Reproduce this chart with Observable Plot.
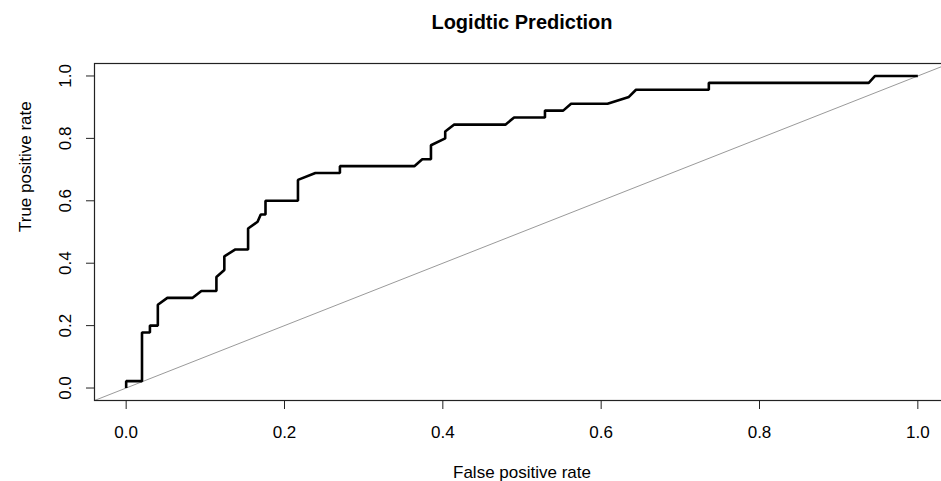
<!DOCTYPE html>
<html><head><meta charset="utf-8">
<script src="https://cdn.jsdelivr.net/npm/d3@7"></script>
<script src="https://cdn.jsdelivr.net/npm/@observablehq/plot@0.6"></script>
<style>html,body{margin:0;padding:0;background:#fff;overflow:hidden;width:941px;height:481px} svg{display:block}</style>
</head><body><div id="chart"></div>
<script>
const title = "Logidtic Prediction";
const xLabel = "False positive rate";
const yLabel = "True positive rate";
const fpr = [0, 0, 0.020, 0.020, 0.030, 0.030, 0.040, 0.040, 0.052, 0.084, 0.095, 0.114, 0.114, 0.124, 0.124, 0.138, 0.154, 0.154, 0.166, 0.170, 0.176, 0.176, 0.217, 0.217, 0.239, 0.270, 0.270, 0.364, 0.374, 0.385, 0.385, 0.403, 0.403, 0.414, 0.479, 0.490, 0.529, 0.529, 0.552, 0.562, 0.608, 0.635, 0.644, 0.736, 0.736, 0.938, 0.946, 1.0];
const tpr = [0, 0.022, 0.022, 0.178, 0.178, 0.200, 0.200, 0.267, 0.289, 0.289, 0.311, 0.311, 0.356, 0.378, 0.422, 0.444, 0.444, 0.511, 0.533, 0.556, 0.556, 0.600, 0.600, 0.667, 0.689, 0.689, 0.711, 0.711, 0.733, 0.733, 0.778, 0.800, 0.822, 0.844, 0.844, 0.867, 0.867, 0.889, 0.889, 0.911, 0.911, 0.933, 0.956, 0.956, 0.978, 0.978, 1.0, 1.0];
const tickValues = [0, 0.2, 0.4, 0.6, 0.8, 1.0];
const tickLabels = ["0.0", "0.2", "0.4", "0.6", "0.8", "1.0"];
const ablineExtent = [-0.04, 1.04];

const roc = fpr.map((x, i) => ({x, y: tpr[i]}));
const fmt = d => tickLabels[tickValues.indexOf(d)];

const chart = Plot.plot({
  width: 941,
  height: 481,
  marginLeft: 94,
  marginRight: -8,
  marginTop: 63,
  marginBottom: 81,
  style: {fontFamily: "'Liberation Sans', Arial, sans-serif", fontSize: "17px", background: "#fff", color: "#000", overflow: "hidden"},
  x: {domain: [-0.04, 1.04], label: null},
  y: {domain: [-0.04, 1.04], label: null},
  marks: [
    Plot.line(ablineExtent, {x: d => d, y: d => d, stroke: "#9a9a9a", strokeWidth: 1}),
    Plot.line(roc, {x: "x", y: "y", stroke: "#000", strokeWidth: 2.6, strokeLinejoin: "miter", strokeLinecap: "butt"}),
    Plot.frame({stroke: "#222", strokeWidth: 1.2}),
    Plot.axisX(tickValues, {tickSize: 9, tickPadding: 16, tickFormat: fmt, fontSize: 17, stroke: "#222"}),
    Plot.axisY(tickValues, {tickSize: 8, tickRotate: -90, tickPadding: 16, tickFormat: fmt, fontSize: 17, stroke: "#222"}),
    Plot.text([title], {text: d => d, frameAnchor: "top", lineAnchor: "middle", dy: -41, fontWeight: "bold", fontSize: 20}),
    Plot.text([xLabel], {text: d => d, frameAnchor: "bottom", lineAnchor: "middle", dy: 72, fontSize: 17}),
    Plot.text([yLabel], {text: d => d, frameAnchor: "left", lineAnchor: "middle", dx: -69, rotate: -90, fontSize: 17})
  ]
});
document.getElementById("chart").appendChild(chart);
</script>
</body></html>
